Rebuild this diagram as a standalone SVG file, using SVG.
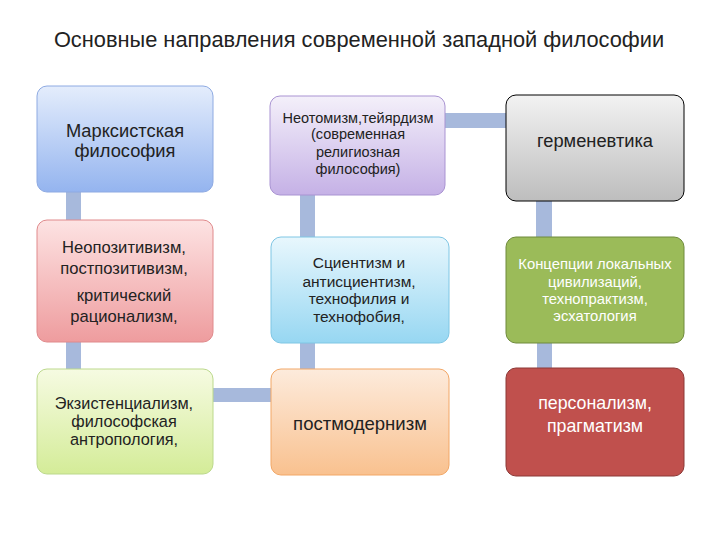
<svg xmlns="http://www.w3.org/2000/svg" width="720" height="540" viewBox="0 0 720 540">
<defs>
<linearGradient id="gBlue" x1="0" y1="0" x2="0" y2="1"><stop offset="0" stop-color="#e4edfc"/><stop offset="1" stop-color="#94b4ef"/></linearGradient>
<linearGradient id="gPurple" x1="0" y1="0" x2="0" y2="1"><stop offset="0" stop-color="#f4f0fa"/><stop offset="1" stop-color="#c5b1e6"/></linearGradient>
<linearGradient id="gGray" x1="0" y1="0" x2="0" y2="1"><stop offset="0" stop-color="#f2f2f2"/><stop offset="1" stop-color="#bdbdbd"/></linearGradient>
<linearGradient id="gPink" x1="0" y1="0" x2="0" y2="1"><stop offset="0" stop-color="#fde3e3"/><stop offset="1" stop-color="#ee9c9e"/></linearGradient>
<linearGradient id="gCyan" x1="0" y1="0" x2="0" y2="1"><stop offset="0" stop-color="#e8f7fd"/><stop offset="1" stop-color="#97d7f2"/></linearGradient>
<linearGradient id="gLime" x1="0" y1="0" x2="0" y2="1"><stop offset="0" stop-color="#f6fbe2"/><stop offset="1" stop-color="#d4ec98"/></linearGradient>
<linearGradient id="gPeach" x1="0" y1="0" x2="0" y2="1"><stop offset="0" stop-color="#fdebdc"/><stop offset="1" stop-color="#f9c18f"/></linearGradient>
</defs>
<style>
.t{font-family:"Liberation Sans",Arial,sans-serif;text-anchor:middle;fill:#222222}
.w{fill:#ffffff}
.c{fill:#a7b9dc}
.b{stroke-width:1}
</style>
<rect width="720" height="540" fill="#ffffff"/>
<text class="t" x="359" y="47" font-size="21.8">Основные направления современной западной философии</text>
<g id="connectors">
<rect class="c" x="66" y="190" width="15" height="31"/>
<rect class="c" x="66" y="341" width="15" height="29"/>
<rect class="c" x="212" y="388" width="60" height="14"/>
<rect class="c" x="300" y="194" width="15" height="44"/>
<rect class="c" x="300" y="342" width="15" height="28"/>
<rect class="c" x="444" y="113" width="63" height="15"/>
<rect class="c" x="536" y="200" width="16" height="38"/>
<rect class="c" x="537" y="342" width="15" height="27"/>
</g>
<g id="n1"><rect class="b" x="37" y="86" width="176" height="106" rx="10" fill="url(#gBlue)" stroke="#8eaae2"/>
<text class="t" x="125" y="137" font-size="18.3">Марксистская</text><text class="t" x="125" y="157" font-size="18.3">философия</text></g>
<g id="n2"><rect class="b" x="270" y="96" width="175" height="99" rx="10" fill="url(#gPurple)" stroke="#a993d2"/>
<text class="t" x="358" y="123" font-size="14.5">Неотомизм,тейярдизм</text><text class="t" x="358" y="139" font-size="14.5">(современная</text><text class="t" x="358" y="157" font-size="14.5">религиозная</text><text class="t" x="358" y="174" font-size="14.5">философия)</text></g>
<g id="n3"><rect class="b" x="506" y="95" width="178" height="106" rx="10" fill="url(#gGray)" stroke="#000000"/>
<text class="t" x="595" y="147" font-size="18.3">герменевтика</text></g>
<g id="n4"><rect class="b" x="37" y="220" width="176" height="122" rx="10" fill="url(#gPink)" stroke="#e08a8c"/>
<text class="t" x="124" y="253" font-size="16.6">Неопозитивизм,</text><text class="t" x="124" y="274" font-size="16.6">постпозитивизм,</text><text class="t" x="124" y="301" font-size="16.6">критический</text><text class="t" x="124" y="322" font-size="16.6">рационализм,</text></g>
<g id="n5"><rect class="b" x="271" y="237" width="178" height="106" rx="10" fill="url(#gCyan)" stroke="#7fc6e4"/>
<text class="t" x="359" y="268" font-size="15.5">Сциентизм и</text><text class="t" x="359" y="287" font-size="15.5">антисциентизм,</text><text class="t" x="359" y="304" font-size="15.5">технофилия и</text><text class="t" x="359" y="322" font-size="15.5">технофобия,</text></g>
<g id="n6"><rect class="b" x="506" y="237" width="178" height="106" rx="10" fill="#9bbb59" stroke="#6f8a3c"/>
<text class="t w" x="595" y="269" font-size="14.8">Концепции локальных</text><text class="t w" x="595" y="287" font-size="14.8">цивилизаций,</text><text class="t w" x="595" y="304" font-size="14.8">технопрактизм,</text><text class="t w" x="595" y="321" font-size="14.8">эсхатология</text></g>
<g id="n7"><rect class="b" x="37" y="369" width="176" height="105" rx="10" fill="url(#gLime)" stroke="#bcd98c"/>
<text class="t" x="124" y="409" font-size="16.3">Экзистенциализм,</text><text class="t" x="124" y="427" font-size="16.3">философская</text><text class="t" x="124" y="445" font-size="16.3">антропология,</text></g>
<g id="n8"><rect class="b" x="271" y="369" width="178" height="106" rx="10" fill="url(#gPeach)" stroke="#f2a766"/>
<text class="t" x="360" y="430" font-size="18.5">постмодернизм</text></g>
<g id="n9"><rect class="b" x="506" y="368" width="178" height="108" rx="10" fill="#c0504d" stroke="#8c3836"/>
<text class="t w" x="595" y="409" font-size="17.8">персонализм,</text><text class="t w" x="595" y="432" font-size="17.8">прагматизм</text></g>
</svg>
